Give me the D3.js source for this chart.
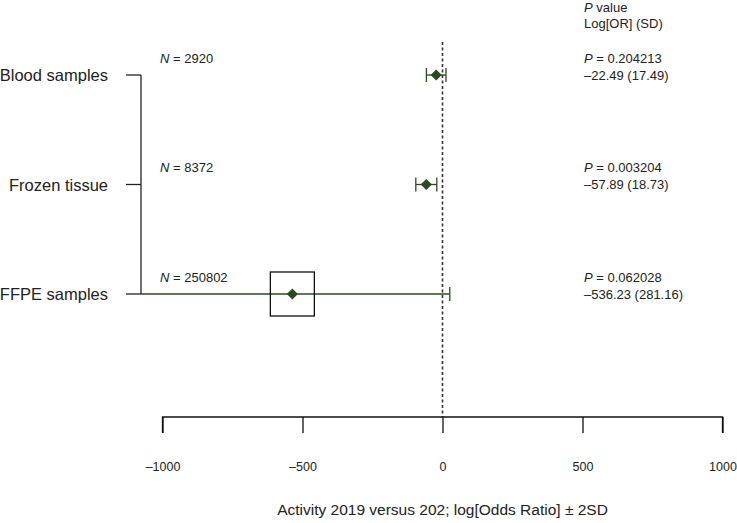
<!DOCTYPE html>
<html><head><meta charset="utf-8">
<script src="https://cdn.jsdelivr.net/npm/d3@7"></script>
<style>body{margin:0;background:#fff;} text{font-family:Arial, "Liberation Sans", sans-serif;}</style>
</head><body>
<svg id="c" width="737" height="523"></svg>
<script>
const categories = ["Blood samples", "Frozen tissue", "FFPE samples"];
const nLabels = ["2920", "8372", "250802"];
const logOR = [-22.49, -57.89, -536.23];
const sd = [17.49, 18.73, 281.16];
const pValues = ["0.204213", "0.003204", "0.062028"];
const tickValues = [-1000, -500, 0, 500, 1000];
const tickLabels = ["\u20131000", "\u2013500", "0", "500", "1000"];
const xTitle = "Activity 2019 versus 202; log[Odds Ratio] \u00b1 2SD";

const svg = d3.select("#c");
const green = "#2b4a22";
const x = d3.scaleLinear().domain([-1000, 1000]).range([162.5, 722.5]);
const y = d3.scalePoint().domain(categories).range([75, 294]);
const bracketX = 141;

// dashed zero line
svg.append("line").attr("x1", x(0)).attr("x2", x(0)).attr("y1", 42).attr("y2", 417)
  .attr("stroke", "#333").attr("stroke-width", 1.6).attr("stroke-dasharray", "3,2.5");

// axis
const axis = d3.axisBottom(x).tickValues(tickValues).tickSize(16).tickPadding(29)
  .tickFormat((d, i) => tickLabels[i]);
const gx = svg.append("g").attr("transform", "translate(0,417)").call(axis);
gx.select(".domain").attr("d", `M${x(-1000)},16V0H${x(1000)}V16`).attr("stroke", "#111").attr("stroke-width", 1.3);
gx.selectAll(".tick line").attr("stroke", "#111").attr("stroke-width", 1.3);
gx.selectAll(".tick text").attr("font-size", 12.5).attr("fill", "#222").attr("font-family", "Arial, Liberation Sans, sans-serif");

svg.append("text").attr("x", x(0)).attr("y", 515).attr("text-anchor", "middle")
  .attr("font-size", 15.5).attr("fill", "#222").text(xTitle);

// bracket
svg.append("line").attr("x1", bracketX).attr("x2", bracketX).attr("y1", y(categories[0])).attr("y2", y(categories[2]))
  .attr("stroke", "#222").attr("stroke-width", 1.3);
categories.forEach(c => {
  svg.append("line").attr("x1", 126).attr("x2", bracketX).attr("y1", y(c)).attr("y2", y(c))
    .attr("stroke", "#222").attr("stroke-width", 1.3);
  svg.append("text").attr("x", 108).attr("y", y(c) + 6).attr("text-anchor", "end")
    .attr("font-size", 16.5).attr("fill", "#222").text(c);
});

// N labels
categories.forEach((c, i) => {
  const t = svg.append("text").attr("x", 160).attr("y", y(c) - 12.5).attr("font-size", 13).attr("fill", "#222");
  t.append("tspan").attr("font-style", "italic").text("N");
  t.append("tspan").text(" = " + nLabels[i]);
});

// header
const h = svg.append("text").attr("x", 584).attr("y", 12).attr("font-size", 13).attr("fill", "#222");
h.append("tspan").attr("font-style", "italic").text("P");
h.append("tspan").text(" value");
svg.append("text").attr("x", 584).attr("y", 28).attr("font-size", 13).attr("fill", "#222").text("Log[OR] (SD)");

categories.forEach((c, i) => {
  const t = svg.append("text").attr("x", 584).attr("y", y(c) - 12.5).attr("font-size", 13).attr("fill", "#222");
  t.append("tspan").attr("font-style", "italic").text("P");
  t.append("tspan").text(" = " + pValues[i]);
  svg.append("text").attr("x", 584).attr("y", y(c) + 4.5).attr("font-size", 13).attr("fill", "#222")
    .text("\u2013" + Math.abs(logOR[i]).toFixed(2) + " (" + sd[i].toFixed(2) + ")");
});

// CI lines & markers
categories.forEach((c, i) => {
  const lo = logOR[i] - 2 * sd[i], hi = logOR[i] + 2 * sd[i];
  const yy = y(c);
  const x0 = Math.max(x(lo), bracketX);
  svg.append("line").attr("x1", x0).attr("x2", x(hi)).attr("y1", yy).attr("y2", yy)
    .attr("stroke", green).attr("stroke-width", 1.3);
  [lo, hi].forEach(v => {
    if (x(v) >= bracketX) {
      svg.append("line").attr("x1", x(v)).attr("x2", x(v)).attr("y1", yy - 7).attr("y2", yy + 7)
        .attr("stroke", green).attr("stroke-width", 1.3);
    }
  });
  if (i === 2) {
    svg.append("rect").attr("x", x(logOR[i]) - 22).attr("y", yy - 22).attr("width", 44).attr("height", 44)
      .attr("fill", "none").attr("stroke", "#111").attr("stroke-width", 1.3);
  }
  svg.append("path").attr("d", d3.symbol(d3.symbolDiamond2, 80)())
    .attr("transform", `translate(${x(logOR[i])},${yy})`).attr("fill", green);
});
</script>
</body></html>
